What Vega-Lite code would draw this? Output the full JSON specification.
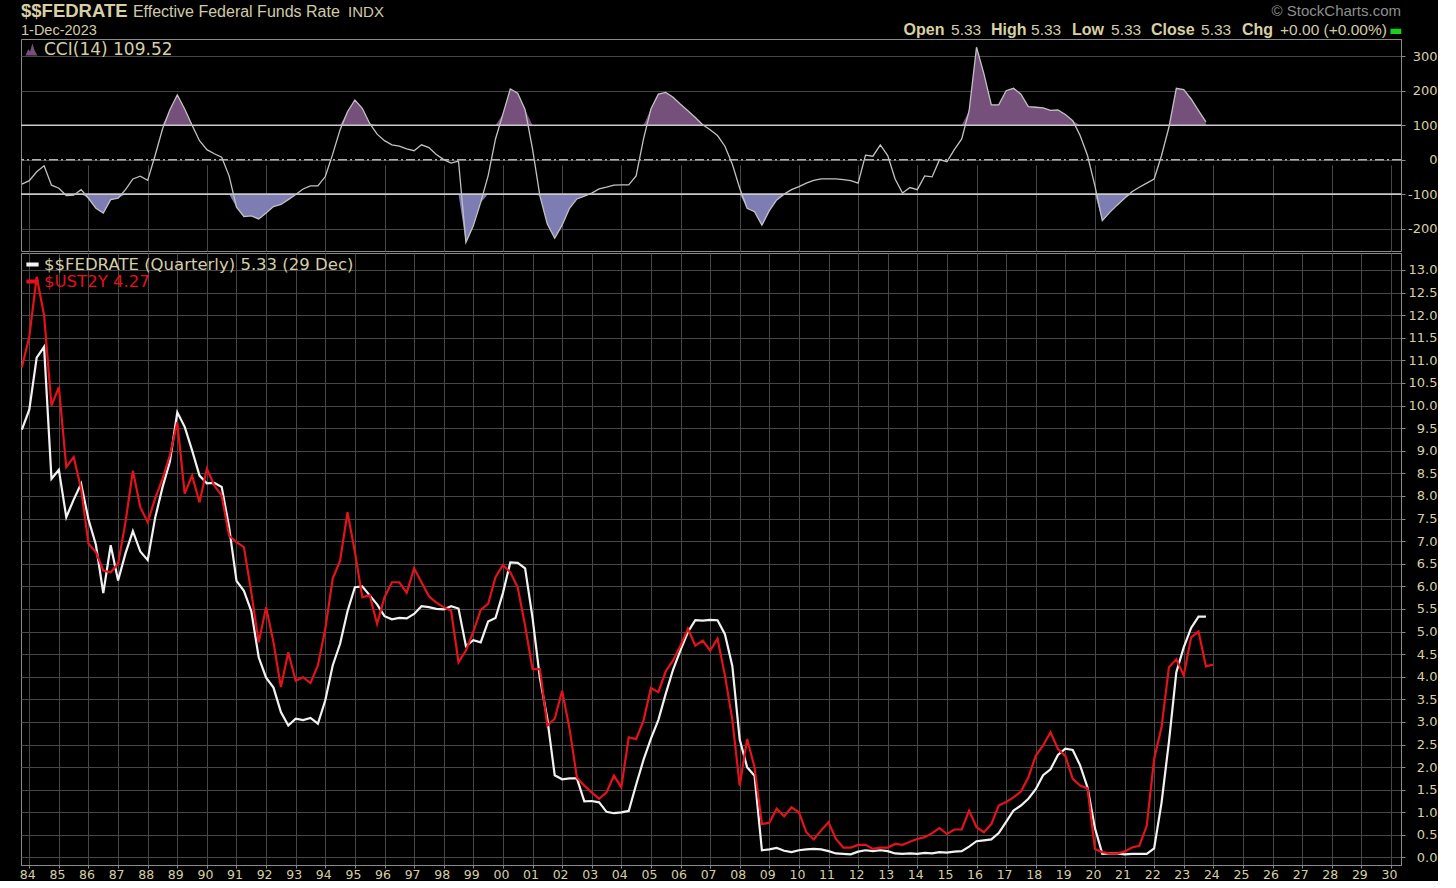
{
  "$schema": "https://vega.github.io/schema/vega-lite/v6.json",
  "background": "#000000",
  "padding": {"left": 16, "top": 1, "right": 0, "bottom": 0},
  "spacing": 2,
  "bounds": "flush",
  "resolve": {"scale": {"color": "independent"}, "legend": {"color": "independent"}},
  "config": {
    "view": {"stroke": "#8a8a8a", "strokeWidth": 1},
    "axis": {"gridColor": "#474747", "gridWidth": 1, "domainColor": "#8a8a8a", "tickColor": "#8a8a8a", "labelColor": "#d6cea6", "labelFont": "DejaVu Sans", "labelFontSize": 13},
    "legend": {"labelLimit": 600}
  },
  "datasets": {
    "q": [
      {"t": 1983.75, "fed": 9.47, "ust": 10.85, "cci": -71},
      {"t": 1984.0, "fed": 9.91, "ust": 11.52, "cci": -61},
      {"t": 1984.25, "fed": 11.06, "ust": 12.85, "cci": -35},
      {"t": 1984.5, "fed": 11.30, "ust": 12.0, "cci": -18},
      {"t": 1984.75, "fed": 8.38, "ust": 10.0, "cci": -74},
      {"t": 1985.0, "fed": 8.58, "ust": 10.41, "cci": -83},
      {"t": 1985.25, "fed": 7.53, "ust": 8.64, "cci": -104},
      {"t": 1985.5, "fed": 7.92, "ust": 8.86, "cci": -103},
      {"t": 1985.75, "fed": 8.27, "ust": 8.16, "cci": -87},
      {"t": 1986.0, "fed": 7.48, "ust": 6.94, "cci": -112},
      {"t": 1986.25, "fed": 6.92, "ust": 6.76, "cci": -141},
      {"t": 1986.5, "fed": 5.85, "ust": 6.35, "cci": -155},
      {"t": 1986.75, "fed": 6.91, "ust": 6.31, "cci": -116},
      {"t": 1987.0, "fed": 6.13, "ust": 6.50, "cci": -112},
      {"t": 1987.25, "fed": 6.73, "ust": 7.42, "cci": -87},
      {"t": 1987.5, "fed": 7.22, "ust": 8.56, "cci": -56},
      {"t": 1987.75, "fed": 6.77, "ust": 7.75, "cci": -48},
      {"t": 1988.0, "fed": 6.58, "ust": 7.42, "cci": -60},
      {"t": 1988.25, "fed": 7.51, "ust": 7.94, "cci": 12},
      {"t": 1988.5, "fed": 8.19, "ust": 8.38, "cci": 89},
      {"t": 1988.75, "fed": 8.76, "ust": 8.90, "cci": 145},
      {"t": 1989.0, "fed": 9.85, "ust": 9.63, "cci": 188},
      {"t": 1989.25, "fed": 9.53, "ust": 8.05, "cci": 147},
      {"t": 1989.5, "fed": 9.01, "ust": 8.45, "cci": 100},
      {"t": 1989.75, "fed": 8.45, "ust": 7.86, "cci": 55},
      {"t": 1990.0, "fed": 8.28, "ust": 8.60, "cci": 29},
      {"t": 1990.25, "fed": 8.29, "ust": 8.23, "cci": 17},
      {"t": 1990.5, "fed": 8.20, "ust": 8.01, "cci": 7},
      {"t": 1990.75, "fed": 7.31, "ust": 7.12, "cci": -47},
      {"t": 1991.0, "fed": 6.12, "ust": 6.98, "cci": -138},
      {"t": 1991.25, "fed": 5.90, "ust": 6.87, "cci": -165},
      {"t": 1991.5, "fed": 5.45, "ust": 5.87, "cci": -163},
      {"t": 1991.75, "fed": 4.43, "ust": 4.76, "cci": -172},
      {"t": 1992.0, "fed": 3.98, "ust": 5.54, "cci": -155},
      {"t": 1992.25, "fed": 3.76, "ust": 4.76, "cci": -136},
      {"t": 1992.5, "fed": 3.22, "ust": 3.77, "cci": -130},
      {"t": 1992.75, "fed": 2.92, "ust": 4.54, "cci": -116},
      {"t": 1993.0, "fed": 3.07, "ust": 3.91, "cci": -101},
      {"t": 1993.25, "fed": 3.04, "ust": 3.99, "cci": -85},
      {"t": 1993.5, "fed": 3.09, "ust": 3.86, "cci": -76},
      {"t": 1993.75, "fed": 2.96, "ust": 4.25, "cci": -76},
      {"t": 1994.0, "fed": 3.48, "ust": 5.06, "cci": -49},
      {"t": 1994.25, "fed": 4.25, "ust": 6.17, "cci": 16},
      {"t": 1994.5, "fed": 4.73, "ust": 6.57, "cci": 87},
      {"t": 1994.75, "fed": 5.45, "ust": 7.64, "cci": 139},
      {"t": 1995.0, "fed": 5.98, "ust": 6.76, "cci": 173},
      {"t": 1995.25, "fed": 6.00, "ust": 5.76, "cci": 149},
      {"t": 1995.5, "fed": 5.80, "ust": 5.80, "cci": 105},
      {"t": 1995.75, "fed": 5.60, "ust": 5.17, "cci": 74},
      {"t": 1996.0, "fed": 5.34, "ust": 5.76, "cci": 55},
      {"t": 1996.25, "fed": 5.27, "ust": 6.09, "cci": 43},
      {"t": 1996.5, "fed": 5.30, "ust": 6.09, "cci": 39},
      {"t": 1996.75, "fed": 5.29, "ust": 5.86, "cci": 31},
      {"t": 1997.0, "fed": 5.39, "ust": 6.40, "cci": 26},
      {"t": 1997.25, "fed": 5.56, "ust": 6.09, "cci": 43},
      {"t": 1997.5, "fed": 5.54, "ust": 5.78, "cci": 35},
      {"t": 1997.75, "fed": 5.50, "ust": 5.64, "cci": 15},
      {"t": 1998.0, "fed": 5.49, "ust": 5.54, "cci": 0},
      {"t": 1998.25, "fed": 5.56, "ust": 5.46, "cci": -10},
      {"t": 1998.5, "fed": 5.51, "ust": 4.32, "cci": -4},
      {"t": 1998.75, "fed": 4.68, "ust": 4.58, "cci": -240},
      {"t": 1999.0, "fed": 4.81, "ust": 4.99, "cci": -192},
      {"t": 1999.25, "fed": 4.76, "ust": 5.48, "cci": -124},
      {"t": 1999.5, "fed": 5.22, "ust": 5.61, "cci": -47},
      {"t": 1999.75, "fed": 5.30, "ust": 6.20, "cci": 60},
      {"t": 2000.0, "fed": 5.85, "ust": 6.47, "cci": 132},
      {"t": 2000.25, "fed": 6.53, "ust": 6.31, "cci": 205},
      {"t": 2000.5, "fed": 6.52, "ust": 5.98, "cci": 193},
      {"t": 2000.75, "fed": 6.40, "ust": 5.13, "cci": 145},
      {"t": 2001.0, "fed": 5.31, "ust": 4.17, "cci": 31},
      {"t": 2001.25, "fed": 3.97, "ust": 4.17, "cci": -105},
      {"t": 2001.5, "fed": 3.07, "ust": 2.92, "cci": -187},
      {"t": 2001.75, "fed": 1.82, "ust": 3.07, "cci": -228},
      {"t": 2002.0, "fed": 1.73, "ust": 3.69, "cci": -190},
      {"t": 2002.25, "fed": 1.75, "ust": 2.85, "cci": -141},
      {"t": 2002.5, "fed": 1.75, "ust": 1.77, "cci": -114},
      {"t": 2002.75, "fed": 1.24, "ust": 1.59, "cci": -106},
      {"t": 2003.0, "fed": 1.25, "ust": 1.44, "cci": -97},
      {"t": 2003.25, "fed": 1.22, "ust": 1.30, "cci": -85},
      {"t": 2003.5, "fed": 1.01, "ust": 1.44, "cci": -80},
      {"t": 2003.75, "fed": 0.98, "ust": 1.81, "cci": -74},
      {"t": 2004.0, "fed": 1.00, "ust": 1.55, "cci": -73},
      {"t": 2004.25, "fed": 1.03, "ust": 2.66, "cci": -73},
      {"t": 2004.5, "fed": 1.61, "ust": 2.62, "cci": -47},
      {"t": 2004.75, "fed": 2.16, "ust": 3.03, "cci": 60},
      {"t": 2005.0, "fed": 2.63, "ust": 3.75, "cci": 147},
      {"t": 2005.25, "fed": 3.04, "ust": 3.66, "cci": 190},
      {"t": 2005.5, "fed": 3.62, "ust": 4.12, "cci": 195},
      {"t": 2005.75, "fed": 4.16, "ust": 4.36, "cci": 181},
      {"t": 2006.0, "fed": 4.59, "ust": 4.69, "cci": 161},
      {"t": 2006.25, "fed": 4.99, "ust": 5.06, "cci": 142},
      {"t": 2006.5, "fed": 5.25, "ust": 4.69, "cci": 122},
      {"t": 2006.75, "fed": 5.24, "ust": 4.80, "cci": 101},
      {"t": 2007.0, "fed": 5.26, "ust": 4.58, "cci": 87},
      {"t": 2007.25, "fed": 5.25, "ust": 4.84, "cci": 70},
      {"t": 2007.5, "fed": 4.94, "ust": 4.03, "cci": 39},
      {"t": 2007.75, "fed": 4.24, "ust": 3.05, "cci": -13},
      {"t": 2008.0, "fed": 2.61, "ust": 1.59, "cci": -83},
      {"t": 2008.25, "fed": 2.00, "ust": 2.62, "cci": -141},
      {"t": 2008.5, "fed": 1.81, "ust": 2.00, "cci": -151},
      {"t": 2008.75, "fed": 0.16, "ust": 0.74, "cci": -190},
      {"t": 2009.0, "fed": 0.18, "ust": 0.77, "cci": -148},
      {"t": 2009.25, "fed": 0.21, "ust": 1.08, "cci": -117},
      {"t": 2009.5, "fed": 0.15, "ust": 0.91, "cci": -100},
      {"t": 2009.75, "fed": 0.12, "ust": 1.11, "cci": -87},
      {"t": 2010.0, "fed": 0.16, "ust": 1.00, "cci": -78},
      {"t": 2010.25, "fed": 0.18, "ust": 0.56, "cci": -68},
      {"t": 2010.5, "fed": 0.19, "ust": 0.40, "cci": -60},
      {"t": 2010.75, "fed": 0.18, "ust": 0.60, "cci": -56},
      {"t": 2011.0, "fed": 0.14, "ust": 0.78, "cci": -56},
      {"t": 2011.25, "fed": 0.09, "ust": 0.41, "cci": -56},
      {"t": 2011.5, "fed": 0.08, "ust": 0.22, "cci": -58},
      {"t": 2011.75, "fed": 0.07, "ust": 0.22, "cci": -61},
      {"t": 2012.0, "fed": 0.13, "ust": 0.28, "cci": -68},
      {"t": 2012.25, "fed": 0.16, "ust": 0.28, "cci": 13},
      {"t": 2012.5, "fed": 0.14, "ust": 0.19, "cci": 10},
      {"t": 2012.75, "fed": 0.16, "ust": 0.22, "cci": 43},
      {"t": 2013.0, "fed": 0.14, "ust": 0.22, "cci": 12},
      {"t": 2013.25, "fed": 0.09, "ust": 0.30, "cci": -56},
      {"t": 2013.5, "fed": 0.08, "ust": 0.28, "cci": -97},
      {"t": 2013.75, "fed": 0.09, "ust": 0.35, "cci": -81},
      {"t": 2014.0, "fed": 0.08, "ust": 0.41, "cci": -87},
      {"t": 2014.25, "fed": 0.10, "ust": 0.45, "cci": -47},
      {"t": 2014.5, "fed": 0.09, "ust": 0.54, "cci": -50},
      {"t": 2014.75, "fed": 0.12, "ust": 0.65, "cci": 0},
      {"t": 2015.0, "fed": 0.11, "ust": 0.52, "cci": -6},
      {"t": 2015.25, "fed": 0.13, "ust": 0.62, "cci": 29},
      {"t": 2015.5, "fed": 0.14, "ust": 0.62, "cci": 60},
      {"t": 2015.75, "fed": 0.24, "ust": 1.04, "cci": 142},
      {"t": 2016.0, "fed": 0.36, "ust": 0.67, "cci": 326},
      {"t": 2016.25, "fed": 0.38, "ust": 0.56, "cci": 249},
      {"t": 2016.5, "fed": 0.40, "ust": 0.74, "cci": 159},
      {"t": 2016.75, "fed": 0.54, "ust": 1.15, "cci": 159},
      {"t": 2017.0, "fed": 0.79, "ust": 1.23, "cci": 200},
      {"t": 2017.25, "fed": 1.04, "ust": 1.33, "cci": 207},
      {"t": 2017.5, "fed": 1.15, "ust": 1.46, "cci": 190},
      {"t": 2017.75, "fed": 1.30, "ust": 1.77, "cci": 154},
      {"t": 2018.0, "fed": 1.51, "ust": 2.25, "cci": 152},
      {"t": 2018.25, "fed": 1.82, "ust": 2.48, "cci": 150},
      {"t": 2018.5, "fed": 1.95, "ust": 2.77, "cci": 143},
      {"t": 2018.75, "fed": 2.27, "ust": 2.40, "cci": 144},
      {"t": 2019.0, "fed": 2.41, "ust": 2.25, "cci": 131},
      {"t": 2019.25, "fed": 2.38, "ust": 1.74, "cci": 113},
      {"t": 2019.5, "fed": 2.04, "ust": 1.59, "cci": 70},
      {"t": 2019.75, "fed": 1.55, "ust": 1.53, "cci": 12},
      {"t": 2020.0, "fed": 0.65, "ust": 0.19, "cci": -76},
      {"t": 2020.25, "fed": 0.08, "ust": 0.12, "cci": -177},
      {"t": 2020.5, "fed": 0.09, "ust": 0.09, "cci": -153},
      {"t": 2020.75, "fed": 0.09, "ust": 0.09, "cci": -132},
      {"t": 2021.0, "fed": 0.07, "ust": 0.13, "cci": -112},
      {"t": 2021.25, "fed": 0.08, "ust": 0.22, "cci": -93},
      {"t": 2021.5, "fed": 0.08, "ust": 0.26, "cci": -80},
      {"t": 2021.75, "fed": 0.08, "ust": 0.70, "cci": -68},
      {"t": 2022.0, "fed": 0.20, "ust": 2.18, "cci": -56},
      {"t": 2022.25, "fed": 1.21, "ust": 2.88, "cci": 12},
      {"t": 2022.5, "fed": 2.56, "ust": 4.21, "cci": 94},
      {"t": 2022.75, "fed": 4.10, "ust": 4.39, "cci": 207},
      {"t": 2023.0, "fed": 4.65, "ust": 4.03, "cci": 203},
      {"t": 2023.25, "fed": 5.08, "ust": 4.87, "cci": 176},
      {"t": 2023.5, "fed": 5.33, "ust": 5.00, "cci": 142},
      {"t": 2023.75, "fed": 5.33, "ust": 4.23, "cci": 109.52},
      {"t": 2024.0, "fed": null, "ust": 4.27, "cci": null}
    ]
  },
  "vconcat": [
    {
      "width": 1380,
      "height": 212,
      "resolve": {"scale": {"y": "independent"}},
      "layer": [
        {
          "data": {"name": "q"},
          "mark": {"type": "area"},
          "encoding": {
            "x": {"field": "t", "type": "quantitative", "scale": {"domain": [1983.72, 2030.34], "nice": false, "zero": false}, "axis": {"orient": "bottom", "values": [1984,1985,1986,1987,1988,1989,1990,1991,1992,1993,1994,1995,1996,1997,1998,1999,2000,2001,2002,2003,2004,2005,2006,2007,2008,2009,2010,2011,2012,2013,2014,2015,2016,2017,2018,2019,2020,2021,2022,2023,2024,2025,2026,2027,2028,2029,2030], "grid": true, "labels": false, "ticks": false, "domain": false, "title": null}},
            "y": {"field": "cci", "type": "quantitative", "scale": {"domain": [100, 350], "range": [86.18, 0], "clamp": true, "nice": false, "zero": false}, "axis": null},
            "y2": {"datum": 100},
            "color": {"datum": "CCI(14) 109.52", "type": "nominal", "scale": {"range": ["#74507a"]}, "legend": {"orient": "top-left", "offset": 2, "padding": 0, "title": null, "symbolType": "M-1,1L-0.55,-0.1L-0.25,0.35L0.15,-1L0.55,0.2L1,1Z", "symbolSize": 140, "symbolStrokeWidth": 0, "labelFont": "DejaVu Sans", "labelFontSize": 17, "labelColor": "#d6cea6", "labelOffset": 4}}
          }
        },
        {
          "data": {"name": "q"},
          "mark": {"type": "area", "color": "#7d7db3"},
          "encoding": {
            "x": {"field": "t", "type": "quantitative", "scale": {"domain": [1983.72, 2030.34], "nice": false, "zero": false}, "axis": {"orient": "bottom", "values": [1984,1985,1986,1987,1988,1989,1990,1991,1992,1993,1994,1995,1996,1997,1998,1999,2000,2001,2002,2003,2004,2005,2006,2007,2008,2009,2010,2011,2012,2013,2014,2015,2016,2017,2018,2019,2020,2021,2022,2023,2024,2025,2026,2027,2028,2029,2030], "grid": true, "labels": false, "ticks": false, "domain": false, "title": null}},
            "y": {"field": "cci", "type": "quantitative", "scale": {"domain": [-265, -100], "range": [212, 155.12], "clamp": true, "nice": false, "zero": false}, "axis": null},
            "y2": {"datum": -100}
          }
        },
        {
          "data": {"values": [{}]},
          "mark": {"type": "rule", "color": "#c9c9c9", "strokeWidth": 1.6},
          "encoding": {"y": {"datum": 100, "type": "quantitative", "scale": {"domain": [-265, 350], "nice": false, "zero": false}, "axis": null}}
        },
        {
          "data": {"values": [{}]},
          "mark": {"type": "rule", "color": "#c9c9c9", "strokeWidth": 1.6},
          "encoding": {"y": {"datum": -100, "type": "quantitative", "scale": {"domain": [-265, 350], "nice": false, "zero": false}, "axis": null}}
        },
        {
          "data": {"values": [{}]},
          "mark": {"type": "rule", "color": "#b0b0b0", "strokeWidth": 1.5, "strokeDash": [9, 3, 2, 3]},
          "encoding": {"y": {"datum": 0, "type": "quantitative", "scale": {"domain": [-265, 350], "nice": false, "zero": false}, "axis": null}}
        },
        {
          "data": {"name": "q"},
          "mark": {"type": "line", "color": "#c2c2c2", "strokeWidth": 1.3},
          "encoding": {
            "x": {"field": "t", "type": "quantitative", "scale": {"domain": [1983.72, 2030.34], "nice": false, "zero": false}, "axis": {"orient": "bottom", "values": [1984,1985,1986,1987,1988,1989,1990,1991,1992,1993,1994,1995,1996,1997,1998,1999,2000,2001,2002,2003,2004,2005,2006,2007,2008,2009,2010,2011,2012,2013,2014,2015,2016,2017,2018,2019,2020,2021,2022,2023,2024,2025,2026,2027,2028,2029,2030], "grid": true, "labels": false, "ticks": false, "domain": false, "title": null}},
            "y": {"field": "cci", "type": "quantitative", "scale": {"domain": [-265, 350], "nice": false, "zero": false}, "axis": {"orient": "right", "values": [-200, -100, 0, 100, 200, 300], "labelExpr": "'' + datum.value", "grid": true, "tickSize": 4, "labelAlign": "right", "labelPadding": 32, "labelBaseline": "middle", "title": null}}
          }
        },
        {
          "data": {"values": [{}]},
          "mark": {"type": "text", "text": "$$FEDRATE", "align": "left", "baseline": "alphabetic", "font": "Liberation Sans", "fontSize": 18.5, "fontWeight": "bold", "color": "#d8d0a4"},
          "encoding": {
            "x": {"datum": 1983.72, "type": "quantitative", "scale": {"domain": [1983.72, 2030.34], "nice": false, "zero": false}},
            "y": {"datum": 414.7, "type": "quantitative", "scale": {"domain": [-265, 350], "nice": false, "zero": false}, "axis": null}
          }
        },
        {
          "data": {"values": [{}]},
          "mark": {"type": "text", "text": "Effective Federal Funds Rate", "align": "left", "baseline": "alphabetic", "font": "Liberation Sans", "fontSize": 16, "color": "#d2cba8"},
          "encoding": {
            "x": {"datum": 1987.5, "type": "quantitative", "scale": {"domain": [1983.72, 2030.34], "nice": false, "zero": false}},
            "y": {"datum": 414.7, "type": "quantitative", "scale": {"domain": [-265, 350], "nice": false, "zero": false}, "axis": null}
          }
        },
        {
          "data": {"values": [{}]},
          "mark": {"type": "text", "text": "INDX", "align": "left", "baseline": "alphabetic", "font": "Liberation Sans", "fontSize": 15, "color": "#d2cba8"},
          "encoding": {
            "x": {"datum": 1994.77, "type": "quantitative", "scale": {"domain": [1983.72, 2030.34], "nice": false, "zero": false}},
            "y": {"datum": 414.7, "type": "quantitative", "scale": {"domain": [-265, 350], "nice": false, "zero": false}, "axis": null}
          }
        },
        {
          "data": {"values": [{}]},
          "mark": {"type": "text", "text": "1-Dec-2023", "align": "left", "baseline": "alphabetic", "font": "Liberation Sans", "fontSize": 14.5, "color": "#d2cba8"},
          "encoding": {
            "x": {"datum": 1983.72, "type": "quantitative", "scale": {"domain": [1983.72, 2030.34], "nice": false, "zero": false}},
            "y": {"datum": 361, "type": "quantitative", "scale": {"domain": [-265, 350], "nice": false, "zero": false}, "axis": null}
          }
        },
        {
          "data": {"values": [{}]},
          "mark": {"type": "text", "text": "© StockCharts.com", "align": "right", "baseline": "alphabetic", "font": "Liberation Sans", "fontSize": 15, "color": "#8e8e8e"},
          "encoding": {
            "x": {"datum": 2030.34, "type": "quantitative", "scale": {"domain": [1983.72, 2030.34], "nice": false, "zero": false}},
            "y": {"datum": 415.3, "type": "quantitative", "scale": {"domain": [-265, 350], "nice": false, "zero": false}, "axis": null}
          }
        },
        {
          "data": {"values": [{}]},
          "mark": {"type": "text", "text": "Open", "align": "left", "baseline": "alphabetic", "font": "Liberation Sans", "fontSize": 16, "fontWeight": "bold", "color": "#d8d0a4"},
          "encoding": {
            "x": {"datum": 2013.534, "type": "quantitative", "scale": {"domain": [1983.72, 2030.34], "nice": false, "zero": false}},
            "y": {"datum": 361, "type": "quantitative", "scale": {"domain": [-265, 350], "nice": false, "zero": false}, "axis": null}
          }
        },
        {
          "data": {"values": [{}]},
          "mark": {"type": "text", "text": "5.33", "align": "left", "baseline": "alphabetic", "font": "Liberation Sans", "fontSize": 15.5, "color": "#d2cba8"},
          "encoding": {
            "x": {"datum": 2015.139, "type": "quantitative", "scale": {"domain": [1983.72, 2030.34], "nice": false, "zero": false}},
            "y": {"datum": 361, "type": "quantitative", "scale": {"domain": [-265, 350], "nice": false, "zero": false}, "axis": null}
          }
        },
        {
          "data": {"values": [{}]},
          "mark": {"type": "text", "text": "High", "align": "left", "baseline": "alphabetic", "font": "Liberation Sans", "fontSize": 16, "fontWeight": "bold", "color": "#d8d0a4"},
          "encoding": {
            "x": {"datum": 2016.49, "type": "quantitative", "scale": {"domain": [1983.72, 2030.34], "nice": false, "zero": false}},
            "y": {"datum": 361, "type": "quantitative", "scale": {"domain": [-265, 350], "nice": false, "zero": false}, "axis": null}
          }
        },
        {
          "data": {"values": [{}]},
          "mark": {"type": "text", "text": "5.33", "align": "left", "baseline": "alphabetic", "font": "Liberation Sans", "fontSize": 15.5, "color": "#d2cba8"},
          "encoding": {
            "x": {"datum": 2017.842, "type": "quantitative", "scale": {"domain": [1983.72, 2030.34], "nice": false, "zero": false}},
            "y": {"datum": 361, "type": "quantitative", "scale": {"domain": [-265, 350], "nice": false, "zero": false}, "axis": null}
          }
        },
        {
          "data": {"values": [{}]},
          "mark": {"type": "text", "text": "Low", "align": "left", "baseline": "alphabetic", "font": "Liberation Sans", "fontSize": 16, "fontWeight": "bold", "color": "#d8d0a4"},
          "encoding": {
            "x": {"datum": 2019.227, "type": "quantitative", "scale": {"domain": [1983.72, 2030.34], "nice": false, "zero": false}},
            "y": {"datum": 361, "type": "quantitative", "scale": {"domain": [-265, 350], "nice": false, "zero": false}, "axis": null}
          }
        },
        {
          "data": {"values": [{}]},
          "mark": {"type": "text", "text": "5.33", "align": "left", "baseline": "alphabetic", "font": "Liberation Sans", "fontSize": 15.5, "color": "#d2cba8"},
          "encoding": {
            "x": {"datum": 2020.544, "type": "quantitative", "scale": {"domain": [1983.72, 2030.34], "nice": false, "zero": false}},
            "y": {"datum": 361, "type": "quantitative", "scale": {"domain": [-265, 350], "nice": false, "zero": false}, "axis": null}
          }
        },
        {
          "data": {"values": [{}]},
          "mark": {"type": "text", "text": "Close", "align": "left", "baseline": "alphabetic", "font": "Liberation Sans", "fontSize": 16, "fontWeight": "bold", "color": "#d8d0a4"},
          "encoding": {
            "x": {"datum": 2021.896, "type": "quantitative", "scale": {"domain": [1983.72, 2030.34], "nice": false, "zero": false}},
            "y": {"datum": 361, "type": "quantitative", "scale": {"domain": [-265, 350], "nice": false, "zero": false}, "axis": null}
          }
        },
        {
          "data": {"values": [{}]},
          "mark": {"type": "text", "text": "5.33", "align": "left", "baseline": "alphabetic", "font": "Liberation Sans", "fontSize": 15.5, "color": "#d2cba8"},
          "encoding": {
            "x": {"datum": 2023.585, "type": "quantitative", "scale": {"domain": [1983.72, 2030.34], "nice": false, "zero": false}},
            "y": {"datum": 361, "type": "quantitative", "scale": {"domain": [-265, 350], "nice": false, "zero": false}, "axis": null}
          }
        },
        {
          "data": {"values": [{}]},
          "mark": {"type": "text", "text": "Chg", "align": "left", "baseline": "alphabetic", "font": "Liberation Sans", "fontSize": 16, "fontWeight": "bold", "color": "#d8d0a4"},
          "encoding": {
            "x": {"datum": 2024.97, "type": "quantitative", "scale": {"domain": [1983.72, 2030.34], "nice": false, "zero": false}},
            "y": {"datum": 361, "type": "quantitative", "scale": {"domain": [-265, 350], "nice": false, "zero": false}, "axis": null}
          }
        },
        {
          "data": {"values": [{}]},
          "mark": {"type": "text", "text": "+0.00 (+0.00%)", "align": "left", "baseline": "alphabetic", "font": "Liberation Sans", "fontSize": 15.5, "color": "#d2cba8"},
          "encoding": {
            "x": {"datum": 2026.254, "type": "quantitative", "scale": {"domain": [1983.72, 2030.34], "nice": false, "zero": false}},
            "y": {"datum": 361, "type": "quantitative", "scale": {"domain": [-265, 350], "nice": false, "zero": false}, "axis": null}
          }
        },
        {
          "data": {"values": [{}]},
          "mark": {"type": "text", "text": "▬", "align": "center", "baseline": "alphabetic", "font": "DejaVu Sans", "fontSize": 14, "color": "#19d119"},
          "encoding": {
            "x": {"datum": 2030.17, "type": "quantitative", "scale": {"domain": [1983.72, 2030.34], "nice": false, "zero": false}},
            "y": {"datum": 361, "type": "quantitative", "scale": {"domain": [-265, 350], "nice": false, "zero": false}, "axis": null}
          }
        }
      ]
    },
    {
      "width": 1380,
      "height": 612,
      "data": {"name": "q"},
      "transform": [{"fold": ["fed", "ust"], "as": ["series", "rate"]}],
      "mark": {"type": "line", "strokeWidth": 2.2},
      "encoding": {
        "x": {"field": "t", "type": "quantitative", "scale": {"domain": [1983.72, 2030.34], "nice": false, "zero": false}, "axis": {"orient": "bottom", "values": [1984,1985,1986,1987,1988,1989,1990,1991,1992,1993,1994,1995,1996,1997,1998,1999,2000,2001,2002,2003,2004,2005,2006,2007,2008,2009,2010,2011,2012,2013,2014,2015,2016,2017,2018,2019,2020,2021,2022,2023,2024,2025,2026,2027,2028,2029,2030], "grid": true, "labelExpr": "substring(toString(datum.value), 2, 4)", "labelOverlap": false, "labelFlush": false, "tickSize": 3, "labelPadding": 0, "labelFontSize": 12.5, "labelOffset": -2, "title": null}},
        "y": {"field": "rate", "type": "quantitative", "scale": {"domain": [-0.166, 13.376], "nice": false, "zero": false}, "axis": {"orient": "right", "values": [0, 0.5, 1, 1.5, 2, 2.5, 3, 3.5, 4, 4.5, 5, 5.5, 6, 6.5, 7, 7.5, 8, 8.5, 9, 9.5, 10, 10.5, 11, 11.5, 12, 12.5, 13], "labelExpr": "format(datum.value, '.1f')", "grid": true, "tickSize": 4, "labelAlign": "right", "labelPadding": 32, "labelBaseline": "middle", "labelOverlap": false, "title": null}},
        "color": {"field": "series", "type": "nominal", "scale": {"domain": ["fed", "ust"], "range": ["#f2f2f2", "#e3121b"]}, "legend": {"orient": "top-left", "offset": 3, "padding": 0, "title": null, "symbolType": "stroke", "symbolSize": 150, "symbolStrokeWidth": 4, "labelFont": "DejaVu Sans", "labelFontSize": 16.5, "labelColor": {"expr": "datum.value === 'ust' ? '#e3121b' : '#d6cea6'"}, "labelOffset": 3, "rowPadding": 0, "labelExpr": "datum.value === 'fed' ? '$$FEDRATE (Quarterly) 5.33 (29 Dec)' : '$UST2Y 4.27'"}}
      }
    }
  ]
}
